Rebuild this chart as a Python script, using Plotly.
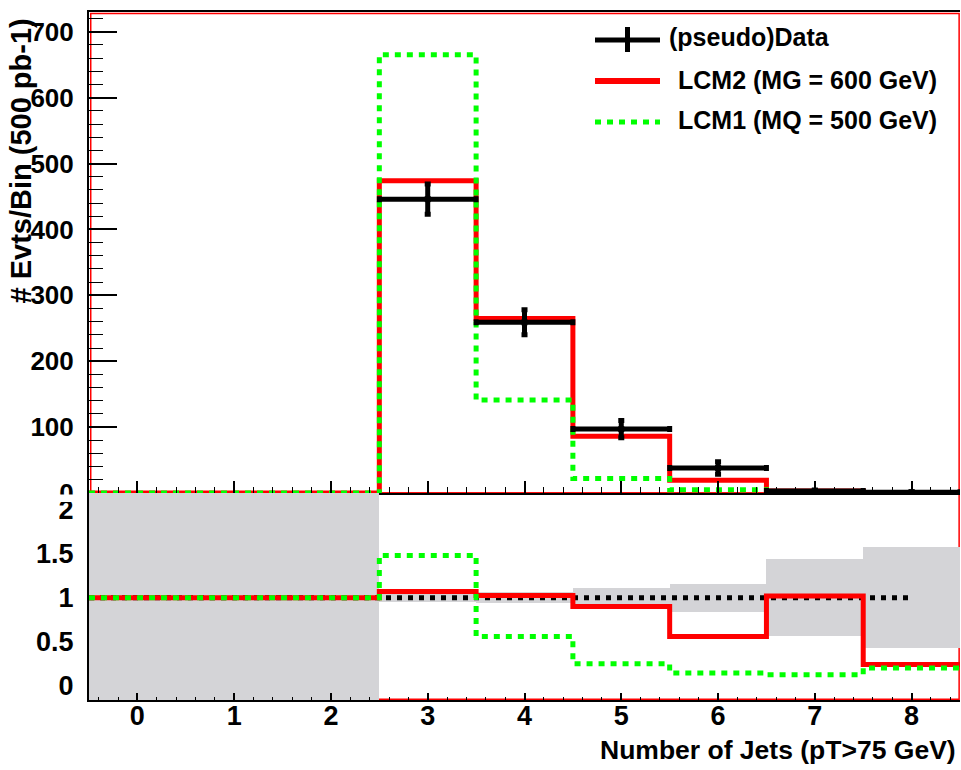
import plotly.graph_objects as go

# ---------------- data ----------------
bin_centers = [0, 1, 2, 3, 4, 5, 6, 7, 8]
bin_edges = [-0.5, 0.5, 1.5, 2.5, 3.5, 4.5, 5.5, 6.5, 7.5, 8.5]

data_bins = [3, 4, 5, 6, 7, 8]
data_vals = [446, 259, 97, 38, 3, 1]
data_errs = [23, 19, 13, 9.5, 1.7, 1.0]

lcm2_vals = [0, 0, 0, 474, 265, 86, 19.5, 3, 0.25]
lcm1_vals = [0, 0, 0, 665, 141, 22, 5, 0.4, 0.2]

ratio_lcm2 = [1, 1, 1, 1.07, 1.025, 0.90, 0.56, 1.02, 0.24]
ratio_lcm1 = [1, 1, 1, 1.48, 0.56, 0.25, 0.145, 0.125, 0.20]
band_lo = [-1, -1, -1, 0.955, 0.935, 0.89, 0.84, 0.56, 0.43]
band_hi = [3, 3, 3, 1.045, 1.065, 1.11, 1.16, 1.44, 1.58]

x_ticks = [0, 1, 2, 3, 4, 5, 6, 7, 8]
y_ticks_top = [0, 100, 200, 300, 400, 500, 600, 700]
y_ticks_bot = [0, 0.5, 1, 1.5, 2]
y_ticklabels_bot = ["0", "0.5", "1", "1.5", "2"]

legend_labels = ["(pseudo)Data", "LCM2 (MG = 600 GeV)", "LCM1 (MQ = 500 GeV)"]

RED = "#ff0000"
GREEN = "#00ff00"
BLACK = "#000000"
GREY = "rgb(212,212,215)"
FONT = "Liberation Sans, Arial, sans-serif"

W, H = 961, 770
ML, MR, MT, MB = 89, 1, 12, 70
PW, PH = W - ML - MR, H - MT - MB
split_px = 493
split = (H - MB - split_px) / PH


def steps(vals):
    return list(vals) + [vals[-1]]


fig = go.Figure()

# ---------------- upper panel ----------------
fig.add_trace(go.Scatter(x=bin_edges, y=steps(lcm2_vals), mode="lines", line_shape="hv",
                         line=dict(color=RED, width=5), xaxis="x", yaxis="y", showlegend=False))
fig.add_trace(go.Scatter(x=bin_edges, y=steps(lcm1_vals), mode="lines", line_shape="hv",
                         line=dict(color=GREEN, width=5, dash="6px,6px"), xaxis="x", yaxis="y",
                         showlegend=False))
fig.add_trace(go.Scatter(x=data_bins, y=data_vals, mode="markers",
                         marker=dict(color=BLACK, size=6, symbol="square"),
                         error_x=dict(type="constant", value=0.5, color=BLACK, thickness=5, width=3),
                         error_y=dict(type="data", array=data_errs, color=BLACK, thickness=5, width=3),
                         xaxis="x", yaxis="y", showlegend=False))

# ---------------- lower panel ----------------
fig.add_trace(go.Bar(x=bin_centers, base=band_lo,
                     y=[h - l for h, l in zip(band_hi, band_lo)],
                     width=1.0, marker=dict(color=GREY, line=dict(width=0)),
                     xaxis="x2", yaxis="y2", showlegend=False))
fig.add_trace(go.Scatter(x=[-0.5, 8], y=[1, 1], mode="lines",
                         line=dict(color=BLACK, width=5, dash="5px,6px"),
                         xaxis="x2", yaxis="y2", showlegend=False))
fig.add_trace(go.Scatter(x=bin_edges, y=steps(ratio_lcm2), mode="lines", line_shape="hv",
                         line=dict(color=RED, width=5), xaxis="x2", yaxis="y2", showlegend=False))
fig.add_trace(go.Scatter(x=bin_edges, y=steps(ratio_lcm1), mode="lines", line_shape="hv",
                         line=dict(color=GREEN, width=5, dash="6px,6px"), xaxis="x2", yaxis="y2",
                         showlegend=False))

# ---------------- axes ----------------
common_x = dict(range=[-0.5, 8.5], showgrid=False, zeroline=False, showline=True,
                linecolor=BLACK, linewidth=2, tickmode="array", tickvals=x_ticks,
                ticks="inside", tickcolor=BLACK, tickwidth=1.5)

fig.update_layout(
    width=W, height=H,
    margin=dict(l=ML, r=MR, t=MT, b=MB),
    paper_bgcolor="white", plot_bgcolor="white",
    bargap=0,
    font=dict(family=FONT, color=BLACK),
    xaxis=dict(common_x, domain=[0, 1], anchor="y", showticklabels=False, ticklen=12,
               mirror=True,
               minor=dict(dtick=0.2, tick0=-0.4, ticklen=6, ticks="inside", tickcolor=BLACK,
                          tickwidth=1.2)),
    xaxis2=dict(common_x, domain=[0, 1], anchor="y2", ticklen=7,
                tickfont=dict(size=27, family=FONT, weight="bold"),
                ticklabelstandoff=-9,
                minor=dict(dtick=0.2, tick0=-0.4, ticklen=3.5, ticks="inside", tickcolor=BLACK,
                           tickwidth=1.2)),
    yaxis=dict(domain=[split, 1], anchor="x", range=[0, 730], showgrid=False, zeroline=False,
               showline=True, linecolor=BLACK, linewidth=2, tickmode="array",
               tickvals=y_ticks_top, ticks="inside", ticklen=28, tickwidth=1.5, tickcolor=BLACK,
               tickfont=dict(size=26, family=FONT, weight="bold"), ticklabelstandoff=8,
               minor=dict(dtick=20, tick0=0, ticklen=14, ticks="inside", tickcolor=BLACK,
                          tickwidth=1.2)),
    yaxis2=dict(domain=[0, split], anchor="x2", range=[-0.163, 2.19], showgrid=False,
                zeroline=False, showline=True, linecolor=BLACK, linewidth=2, tickmode="array",
                tickvals=y_ticks_bot, ticktext=y_ticklabels_bot, ticks="",
                tickfont=dict(size=27, family=FONT, weight="bold"), ticklabelstandoff=8),
)

# red pad frames
fig.add_shape(type="rect", xref="x domain", yref="y domain", x0=0.002, x1=0.999, y0=0, y1=0.997,
              line=dict(color=RED, width=1.5), layer="below")
fig.add_shape(type="rect", xref="x2 domain", yref="y2 domain", x0=0.002, x1=0.999, y0=0.004, y1=1,
              line=dict(color=RED, width=1.5), layer="below")

# hide lower part of the upper "0" tick label (covered by lower pad in the original)
fig.add_shape(type="rect", xref="paper", yref="paper", x0=-0.09, x1=-0.003,
              y0=(H - MB - 502) / PH, y1=split - 0.002,
              line=dict(width=0), fillcolor="white", layer="above")


# ---------------- legend (manual) ----------------
def px_x(p):
    return (p - ML) / PW


def px_y(p):
    return (H - MB - p) / PH


leg_x0, leg_x1 = 595, 660
leg_ys = [40, 81, 122]
fig.add_shape(type="line", xref="paper", yref="paper", x0=px_x(leg_x0), x1=px_x(leg_x1),
              y0=px_y(leg_ys[0]), y1=px_y(leg_ys[0]), line=dict(color=BLACK, width=5))
fig.add_shape(type="line", xref="paper", yref="paper", x0=px_x(627.5), x1=px_x(627.5),
              y0=px_y(27), y1=px_y(52), line=dict(color=BLACK, width=5))
fig.add_shape(type="line", xref="paper", yref="paper", x0=px_x(leg_x0), x1=px_x(leg_x1),
              y0=px_y(leg_ys[1]), y1=px_y(leg_ys[1]), line=dict(color=RED, width=6))
fig.add_shape(type="line", xref="paper", yref="paper", x0=px_x(leg_x0), x1=px_x(leg_x1),
              y0=px_y(leg_ys[2]), y1=px_y(leg_ys[2]), line=dict(color=GREEN, width=5,
                                                                 dash="6px,6px"))
text_x = [667, 676, 676]
for lab, ly, tx in zip(legend_labels, [37, 80, 120], text_x):
    fig.add_annotation(text=lab, xref="paper", yref="paper", x=px_x(tx), y=px_y(ly),
                       xanchor="left", yanchor="middle", showarrow=False,
                       font=dict(size=25, family=FONT, color=BLACK, weight="bold"))

# axis titles
fig.add_annotation(text="Number of Jets (pT>75 GeV)", xref="paper", yref="paper",
                   x=px_x(958), y=px_y(750), xanchor="right", yanchor="middle", showarrow=False,
                   font=dict(size=26.5, family=FONT, color=BLACK, weight="bold"))
fig.add_annotation(text="# Evts/Bin (500 pb-1)", xref="paper", yref="paper",
                   x=px_x(20), y=px_y(17), xanchor="center", yanchor="top", textangle=-90,
                   showarrow=False,
                   font=dict(size=29, family=FONT, color=BLACK, weight="bold"))

fig.write_html("out.html")
